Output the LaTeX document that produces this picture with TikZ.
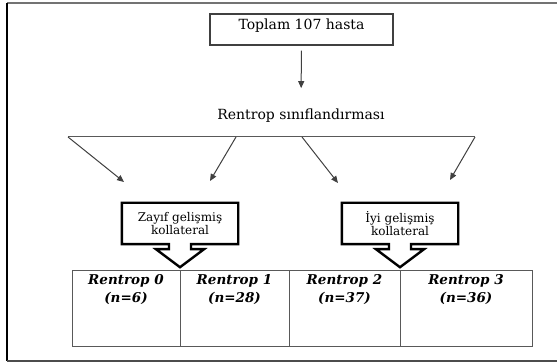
\documentclass[tikz,border=0pt]{standalone}
\usepackage{fontspec}
\setmainfont{DejaVu Serif}
\usetikzlibrary{positioning, arrows.meta, calc}

\begin{document}
\begin{tikzpicture}[x=1pt, y=-1pt,
    box/.style={rectangle, draw=black!75, line width=1.2pt, inner sep=0pt, font=\fontsize{14}{16}\selectfont},
    plain/.style={inner sep=0pt, font=\fontsize{14}{16}\selectfont},
    arrow/.style={-{Triangle[length=7pt, width=6pt]}, line width=1pt, black!75},
    branch/.style={line width=1pt, black!65},
    calltext/.style={rectangle, inner sep=0pt, minimum width=116pt, minimum height=41pt, align=center, font=\fontsize{12}{13}\selectfont},
    callout/.style={draw=black, line width=2.4pt},
    cell/.style={rectangle, draw=black!65, line width=1pt, inner sep=0pt, outer sep=0pt, align=center, text height=32pt, text depth=44pt, font=\fontsize{13.5}{18}\selectfont\bfseries\itshape},
]
\useasboundingbox (0,0) rectangle (557,363);

% Frame
\draw[black!55, line width=1.5pt] (7,3) -- (557,3);
\draw[black, line width=1.2pt] (7,3) -- (7,361);
\draw[black!70, line width=1.2pt] (7,361) -- (557,361);

% Top
\node[box, minimum width=183pt, minimum height=31pt, text height=10pt, text depth=9pt] (total) at (301.5,29.5) {Toplam 107 hasta};
\node[plain, anchor=base] (rsinif) at (301,120) {Rentrop sınıflandırması};
\draw[arrow, shorten <=5pt, shorten >=21pt] (total) -- (rsinif);

% Branching line
\coordinate (bl) at (68,137);
\coordinate (b1) at (236,137);
\coordinate (b2) at (302,137);
\coordinate (br) at (475,137);
\coordinate (t0) at (124,182);
\coordinate (t1) at (210,181);
\coordinate (t2) at (338,183);
\coordinate (t3) at (450,180);
\draw[branch] (bl) -- (br);
\foreach \s/\t in {bl/t0, b1/t1, b2/t2, br/t3}
  \draw[arrow] (\s) -- (\t);

% Collateral callouts
\node[calltext] (weak) at (180,223.5) {Zayıf gelişmiş\\kollateral};
\node[calltext] (good) at (400,223.5) {İyi gelişmiş\\kollateral};
\foreach \c in {weak, good}
  \draw[callout] (\c.south) ++(0,23) -- ++(-24,-18) -- ++(13,0) -- ++(0,-5)
    -- (\c.south west) -- (\c.north west) -- (\c.north east) -- (\c.south east)
    -- ($(\c.south)+(11,0)$) -- ++(0,5) -- ++(13,0) -- cycle;

% Rentrop grades
\node[cell, minimum width=108pt, anchor=north west] (r0) at (72,271) {Rentrop 0\\(n=6)};
\node[cell, minimum width=109pt, right=0pt of r0] (r1) {Rentrop 1\\(n=28)};
\node[cell, minimum width=111pt, right=0pt of r1] (r2) {Rentrop 2\\(n=37)};
\node[cell, minimum width=132pt, right=0pt of r2] (r3) {Rentrop 3\\(n=36)};

\end{tikzpicture}
\end{document}
